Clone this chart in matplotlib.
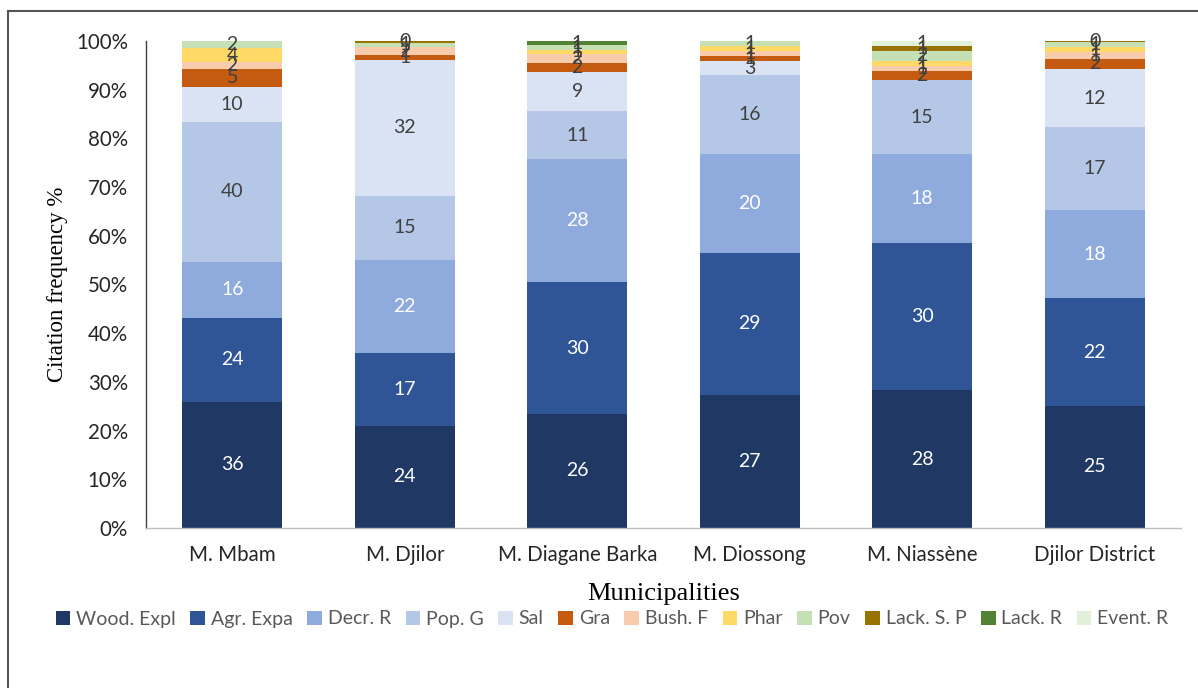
import numpy as np
import matplotlib
matplotlib.use("Agg")
import matplotlib.pyplot as plt
from matplotlib.lines import Line2D

municipalities = ["M. Mbam", "M. Djilor", "M. Diagane Barka", "M. Diossong",
                  "M. Niassène", "Djilor District"]
causes = ["Wood. Expl", "Agr. Expa", "Decr. R", "Pop. G", "Sal", "Gra",
          "Bush. F", "Phar", "Pov", "Lack. S. P", "Lack. R", "Event. R"]

# citation counts per municipality, one list per cause
wood_expl = [36, 24, 26, 27, 28, 25]
agr_expa = [24, 17, 30, 29, 30, 22]
decr_r = [16, 22, 28, 20, 18, 18]
pop_g = [40, 15, 11, 16, 15, 17]
sal = [10, 32, 9, 3, 0, 12]
gra = [5, 1, 2, 1, 2, 2]
bush_f = [2, 2, 2, 1, 1, 1.4]
phar = [4, 0, 1, 1, 1, 1]
pov = [2, 1, 1, 1, 2, 1]
lack_sp = [0, 0.4, 0, 0, 1, 0.3]
lack_r = [0, 0, 1, 0, 0, 0]
event_r = [0, 0, 0, 0, 1, 0]

series = [wood_expl, agr_expa, decr_r, pop_g, sal, gra,
          bush_f, phar, pov, lack_sp, lack_r, event_r]
colors = ["#203864", "#2f5597", "#8faadc", "#b4c7e7", "#dae3f3", "#c55a11",
          "#f8cbad", "#ffd966", "#c5e0b4", "#997300", "#548235", "#e2f0d9"]
label_colors = ["white", "white", "white", "#404040", "#404040", "#404040",
                "#404040", "#404040", "#404040", "#404040", "#404040", "#404040"]

data = np.array(series, dtype=float)
totals = data.sum(axis=0)
shares = data / totals

fig = plt.figure(figsize=(11.98, 6.88), dpi=100)
ax = fig.add_axes([146 / 1198, 160 / 688, 1035 / 1198, 487 / 688])

x = np.arange(len(municipalities))
bottom = np.zeros(len(municipalities))
for vals, share, col, lcol, name in zip(data, shares, colors, label_colors, causes):
    ax.bar(x, share, 0.58, bottom=bottom, color=col, label=name, linewidth=0)
    for i in range(len(x)):
        if vals[i] > 0:
            ax.text(x[i], bottom[i] + share[i] / 2, f"{vals[i]:.0f}",
                    ha="center", va="center", fontsize=14,
                    family="Lato", color=lcol)
    bottom += share

ax.set_xlim(-0.5, len(municipalities) - 0.5)
ax.set_ylim(0, 1)
ax.set_yticks(np.arange(0, 1.01, 0.1))
ax.set_yticklabels([f"{int(round(t * 100))}%" for t in np.arange(0, 1.01, 0.1)])
ax.set_xticks(x)
ax.set_xticklabels(municipalities)
ax.tick_params(axis="both", length=0, labelsize=14.8, labelcolor="#262626")
ax.tick_params(axis="y", pad=13)
ax.tick_params(axis="x", pad=12)
for lab in ax.get_xticklabels() + ax.get_yticklabels():
    lab.set_family("Lato")

for side in ["top", "right"]:
    ax.spines[side].set_visible(False)
ax.spines["left"].set_color("#404040")
ax.spines["left"].set_linewidth(1.0)
ax.spines["bottom"].set_color("#bfbfbf")
ax.spines["bottom"].set_linewidth(1.0)

ax.set_ylabel("Citation frequency %", family="Liberation Serif", fontsize=16.5,
              labelpad=6)
ax.set_xlabel("Municipalities", family="Liberation Serif", fontsize=19,
              labelpad=13)

leg = fig.legend(*ax.get_legend_handles_labels(), loc="center",
                 bbox_to_anchor=(612 / 1198, 1 - 619 / 688), ncol=12,
                 frameon=False, handlelength=0.75,
                 handleheight=0.75, handletextpad=0.3, columnspacing=0.75,
                 prop={"family": "Lato", "size": 14})
for t in leg.get_texts():
    t.set_color("#595959")

# outer frame lines along the top and left edges
fig.add_artist(Line2D([8 / 1198, 1.0], [1 - 11 / 688, 1 - 11 / 688],
                      transform=fig.transFigure, color="#555555", linewidth=1.5))
fig.add_artist(Line2D([8 / 1198, 8 / 1198], [0, 1 - 11 / 688],
                      transform=fig.transFigure, color="#555555", linewidth=1.5))

fig.savefig("out.png", dpi=100)
